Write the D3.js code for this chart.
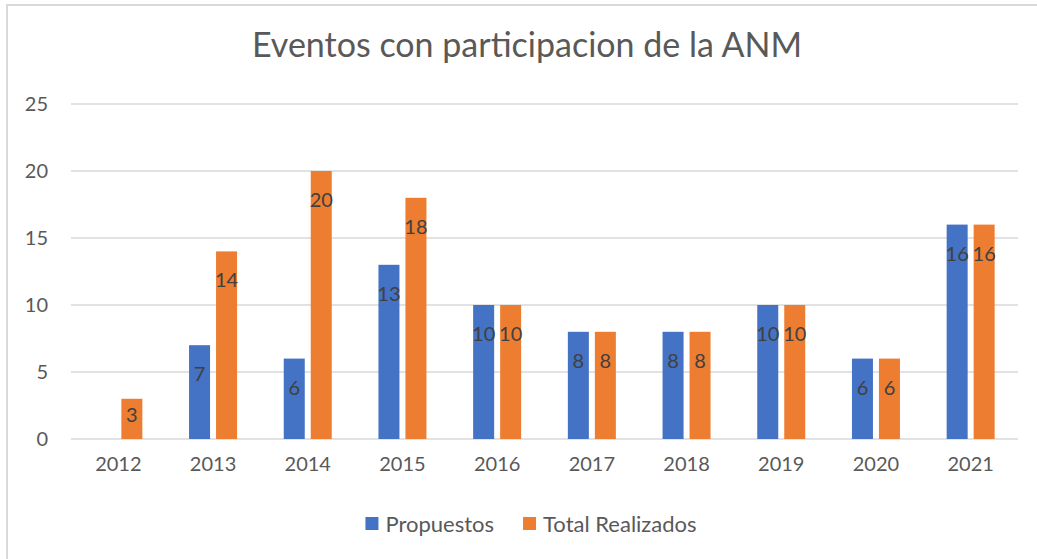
<!DOCTYPE html>
<html>
<head>
<meta charset="utf-8">
<script src="https://cdn.jsdelivr.net/npm/d3@7"></script>
<style>
  body { margin: 0; background: #fff; }
  svg { display: block; font-family: Lato, "Open Sans", sans-serif; }
</style>
</head>
<body>
<script>
// chart data
var years = ["2012", "2013", "2014", "2015", "2016", "2017", "2018", "2019", "2020", "2021"];
var propuestos = [null, 7, 6, 13, 10, 8, 8, 10, 6, 16];
var realizados = [3, 14, 20, 18, 10, 8, 8, 10, 6, 16];
var seriesNames = ["Propuestos", "Total Realizados"];
var seriesColors = ["#4472C4", "#ED7D31"];
var yTicks = [0, 5, 10, 15, 20, 25];

var W = 1037, H = 559;
var svg = d3.select("body").append("svg").attr("width", W).attr("height", H);

// outer frame
svg.append("rect")
	.attr("x", 7).attr("y", 5)
	.attr("width", W + 10).attr("height", H + 10)
	.attr("fill", "#fff")
	.attr("stroke", "#D9D9D9")
	.attr("stroke-width", 2);

svg.append("text")
	.attr("x", 527).attr("y", 57)
	.attr("text-anchor", "middle")
	.attr("font-size", 34)
	.attr("fill", "#595959")
	.text("Eventos con participacion de la ANM");

var x0 = d3.scaleBand().domain(years).range([71, 1018]);
var groupW = 48;
var x1 = d3.scaleBand().domain(seriesNames).range([0, groupW]).paddingInner(0.222);
var y = d3.scaleLinear().domain([0, 25]).range([439, 104]);

// gridlines
svg.append("g").selectAll("line").data(yTicks)
	.enter().append("line")
	.attr("x1", 71).attr("x2", 1018)
	.attr("y1", function(d) { return y(d); })
	.attr("y2", function(d) { return y(d); })
	.attr("stroke", "#D9D9D9")
	.attr("stroke-width", 1.3);

// y tick labels
var yAxis = svg.append("g")
	.attr("transform", "translate(48,0)")
	.call(d3.axisLeft(y).tickValues(yTicks).tickSize(0).tickPadding(0));
yAxis.select(".domain").remove();
yAxis.selectAll("text").attr("font-size", 20).attr("fill", "#595959").attr("font-family", "Lato, sans-serif");

// x tick labels
var xAxis = svg.append("g")
	.attr("transform", "translate(0,457)")
	.call(d3.axisBottom(x0).tickSize(0).tickPadding(0));
xAxis.select(".domain").remove();
xAxis.selectAll("text").attr("font-size", 20).attr("fill", "#595959").attr("font-family", "Lato, sans-serif");

var rows = years.map(function(yr, i) {
	return [
		{year: yr, key: seriesNames[0], value: propuestos[i]},
		{year: yr, key: seriesNames[1], value: realizados[i]}
	];
});
var cells = [].concat.apply([], rows).filter(function(d) { return d.value != null; });

var color = d3.scaleOrdinal().domain(seriesNames).range(seriesColors);
var offset = (x0.bandwidth() - groupW) / 2;

function barX(d) { return x0(d.year) + offset + x1(d.key); }

svg.append("g").selectAll("rect").data(cells)
	.enter().append("rect")
	.attr("x", barX)
	.attr("y", function(d) { return y(d.value); })
	.attr("width", x1.bandwidth())
	.attr("height", function(d) { return y(0) - y(d.value); })
	.attr("fill", function(d) { return color(d.key); });

// data labels, inside end
svg.append("g").selectAll("text").data(cells)
	.enter().append("text")
	.attr("x", function(d) { return barX(d) + x1.bandwidth() / 2; })
	.attr("y", function(d) { return Math.min(y(d.value) + 29, y(0) - 24); })
	.attr("dy", "0.35em")
	.attr("text-anchor", "middle")
	.attr("font-size", 20)
	.attr("fill", "#404040")
	.text(function(d) { return d.value; });

// legend
var legend = svg.append("g");
var lx = 0;
seriesNames.forEach(function(name, i) {
	var g = legend.append("g").attr("transform", "translate(" + lx + ",0)");
	g.append("rect").attr("x", 0).attr("y", -7).attr("width", 13).attr("height", 13).attr("fill", seriesColors[i]);
	var t = g.append("text").attr("x", 20).attr("y", 0).attr("dy", "0.35em")
		.attr("font-size", 22).attr("fill", "#595959").text(name);
	lx += 20 + t.node().getComputedTextLength() + 29;
});
var legW = lx - 29;
legend.attr("transform", "translate(" + (531 - legW / 2) + ",524)");
</script>
</body>
</html>
